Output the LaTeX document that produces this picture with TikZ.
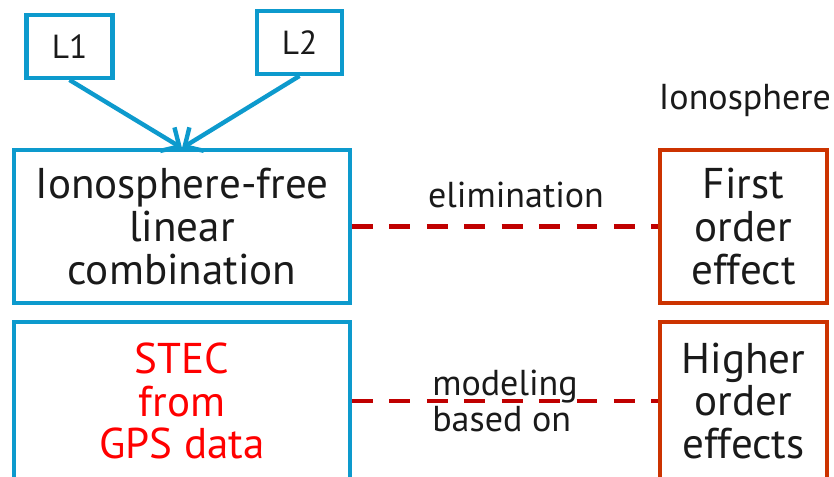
\documentclass[tikz,border=0pt]{standalone}
\usepackage{fontspec}
\setmainfont{PT Sans}
\usetikzlibrary{arrows.meta,positioning}
\definecolor{skyBlue}{HTML}{0D9ACD}
\definecolor{rustRed}{HTML}{CC3300}
\definecolor{darkRed}{HTML}{C00000}
\definecolor{brightRed}{HTML}{FF0000}
\definecolor{ink}{HTML}{1A1A1A}

\begin{document}
\begin{tikzpicture}[
    signal/.style={draw=skyBlue, fill=white, line width=2.5pt, minimum width=1.72cm, minimum height=1.25cm, align=center, font=\fontsize{19}{22}\selectfont\color{ink}},
    method/.style={draw=skyBlue, fill=white, line width=2.5pt, minimum width=6.71cm, minimum height=3.05cm, align=center, font=\fontsize{24.5}{24.4}\selectfont\color{ink}},
    effect/.style={draw=rustRed, fill=white, line width=2.5pt, minimum width=3.33cm, minimum height=3.05cm, align=center, font=\fontsize{24.5}{24.4}\selectfont\color{ink}},
    note/.style={font=\fontsize{20.5}{20.5}\selectfont\color{ink}},
    link/.style={draw=skyBlue, -{Straight Barb[length=0.28cm, width=0.55cm]}, line width=2.5pt},
    relation/.style={draw=darkRed, line width=2.3pt, dash pattern=on 11.9pt off 9.4pt}
  ]
    \useasboundingbox (0,0) rectangle (16.68,9.52);

    % Nodes top
    \node[signal] (l1) at (1.39, 8.59) {L1};
    \node[signal, minimum width=1.69cm] (l2) at (5.99, 8.67) {L2};
    \node[note] (iono) at (14.90, 7.52) {Ionosphere};

    % Nodes left
    \node[method] (ionofree) at (3.64, 4.99) {Ionosphere-free\\linear\\combination};
    \node[method, minimum height=3.15cm, font=\fontsize{24.5}{24.4}\selectfont\color{brightRed}] (stec) at (3.64, 1.50) {STEC\\from\\GPS data};

    % Nodes right
    \node[effect] (first) at (14.87, 4.99) {First\\order\\effect};
    \node[effect, minimum height=3.15cm] (higher) at (14.87, 1.50) {Higher\\order\\effects};

    % Edges
    \draw[link] (l1.south) -- (ionofree.north);
    \draw[link] (l2.south) -- (ionofree.north);
    \draw[relation] (ionofree) -- node[note, above=0.22cm, xshift=0.22cm]{elimination} (first);
    \draw[relation] (stec) -- node[note, align=left]{modeling\\based on} (higher);
  \end{tikzpicture}
\end{document}
